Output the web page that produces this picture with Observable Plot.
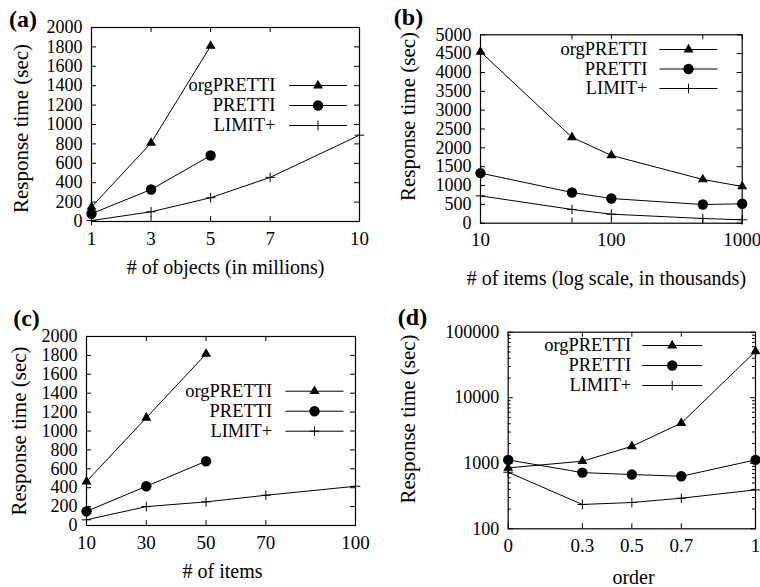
<!DOCTYPE html>
<html>
<head>
<meta charset="utf-8">
<script src="https://cdn.jsdelivr.net/npm/d3@7"></script>
<script src="https://cdn.jsdelivr.net/npm/@observablehq/plot@0.6"></script>
<style>
  html, body { margin: 0; padding: 0; background: #fff; }
  #wrap { position: relative; width: 760px; height: 587px; overflow: hidden; background: #fff; }
  #wrap svg { position: absolute; overflow: visible; font-family: 'Liberation Serif', 'Times New Roman', Times, serif !important; }
  #wrap svg text { font-family: 'Liberation Serif', 'Times New Roman', Times, serif; }
</style>
</head>
<body>
<div id="wrap"></div>
<script>
// ---------- data ----------
const seriesNames = ["orgPRETTI", "PRETTI", "LIMIT+"];
const yTitle = "Response time (sec)";

// (a) number of objects (millions)
const aX = [1, 3, 5, 7, 10];
const aOrg = [150, 810, 1810];
const aPretti = [80, 330, 680];
const aLimit = [10, 100, 245, 455, 890];
const aYTicks = [0, 200, 400, 600, 800, 1000, 1200, 1400, 1600, 1800, 2000];

// (b) number of items (log scale, thousands)
const bX = [10, 50, 100, 500, 1000];
const bOrg = [4550, 2280, 1800, 1160, 975];
const bPretti = [1330, 815, 655, 495, 515];
const bLimit = [725, 365, 240, 125, 90];
const bYTicks = [0, 500, 1000, 1500, 2000, 2500, 3000, 3500, 4000, 4500, 5000];

// (c) number of items
const cX = [10, 30, 50, 70, 100];
const cOrg = [465, 1140, 1815];
const cPretti = [150, 415, 680];
const cLimit = [60, 200, 250, 320, 415];
const cYTicks = [0, 200, 400, 600, 800, 1000, 1200, 1400, 1600, 1800, 2000];

// (d) order
const dX = [0, 0.3, 0.5, 0.7, 1];
const dOrg = [850, 1075, 1815, 4100, 51000];
const dPretti = [1125, 720, 673, 634, 1125];
const dLimit = [730, 235, 252, 293, 393];
const dYTicks = [100, 1000, 10000, 100000];
const dYMinor = [200,300,400,500,600,700,800,900,2000,3000,4000,5000,6000,7000,8000,9000,20000,30000,40000,50000,60000,70000,80000,90000];

// ---------- drawing ----------
const FONT = "'Liberation Serif', 'Times New Roman', Times, serif";
const TICK_FS = 18;
const LEGEND_FS = 18.5;
const markers = [
  {symbol: "triangle", r: 3.7, fill: "black", stroke: "none"},
  {symbol: "circle", r: 5.2, fill: "black", stroke: "none"},
  {symbol: "plus", r: 3.2, fill: "none", stroke: "black"}
];
function hline(len) {
  return {draw(ctx) { ctx.moveTo(-len / 2, 0); ctx.lineTo(len / 2, 0); }};
}
const rows = (xs, ys) => ys.map((y, i) => ({x: xs[i], y}));

function panel(cfg) {
  const W = cfg.width - cfg.mL - cfg.mR;
  const H = cfg.height - cfg.mT - cfg.mB;
  const marks = [];
  // inward ticks (gnuplot style, mirrored)
  marks.push(Plot.tickY(cfg.yTicks, {y: d => d, insetRight: W - 5, stroke: "black"}));
  marks.push(Plot.tickY(cfg.yTicks, {y: d => d, insetLeft: W - 5, stroke: "black"}));
  if (cfg.yMinor) {
    marks.push(Plot.tickY(cfg.yMinor, {y: d => d, insetRight: W - 3, stroke: "black"}));
    marks.push(Plot.tickY(cfg.yMinor, {y: d => d, insetLeft: W - 3, stroke: "black"}));
  }
  marks.push(Plot.tickX(cfg.xTicks, {x: d => d, insetTop: H - 5, stroke: "black"}));
  marks.push(Plot.tickX(cfg.xTicks, {x: d => d, insetBottom: H - 5, stroke: "black"}));
  marks.push(Plot.axisY(cfg.yTicks, {tickSize: 0, tickPadding: 9, fontSize: TICK_FS, fontFamily: FONT, tickFormat: d => String(d), label: null, fill: "black"}));
  marks.push(Plot.axisX(cfg.xTicks, {tickSize: 0, tickPadding: 9.5, fontSize: TICK_FS + 1, fontFamily: FONT, tickFormat: d => String(d), label: null, fill: "black"}));
  // series
  cfg.series.forEach((ys, k) => {
    const data = rows(cfg.x, ys);
    marks.push(Plot.line(data, {x: "x", y: "y", stroke: "black", strokeWidth: 1}));
    marks.push(Plot.dot(data, {x: "x", y: "y", ...markers[k], strokeWidth: 1}));
  });
  marks.push(Plot.frame({stroke: "black", strokeWidth: 1.2}));
  // legend
  const L = cfg.legend;
  seriesNames.forEach((name, k) => {
    marks.push(Plot.text([name], {text: d => d, frameAnchor: "top-left", dx: L.textDx, dy: L.rows[k], textAnchor: "end", lineAnchor: "middle", fontSize: LEGEND_FS, fontFamily: FONT, fill: "black"}));
    marks.push(Plot.dot([0], {frameAnchor: "top-left", dx: L.lineDx, dy: L.rows[k], symbol: hline(L.len), r: 1, fill: "none", stroke: "black", strokeWidth: 1}));
    marks.push(Plot.dot([0], {frameAnchor: "top-left", dx: L.lineDx, dy: L.rows[k], ...markers[k], strokeWidth: 1}));
  });
  // titles
  marks.push(Plot.text([cfg.xTitle], {text: d => d, frameAnchor: "bottom", dx: cfg.xTitleDx, dy: cfg.xTitleDy, textAnchor: "middle", lineAnchor: "middle", fontSize: 20, fontFamily: FONT, fill: "black"}));
  marks.push(Plot.text([yTitle], {text: d => d, frameAnchor: "left", dx: cfg.yTitleDx, dy: cfg.yTitleDy, rotate: -90, textAnchor: "middle", lineAnchor: "middle", fontSize: 21, fontFamily: FONT, fill: "black"}));
  marks.push(Plot.text([cfg.tag], {text: d => d, frameAnchor: "top-left", dx: cfg.tagDx, dy: cfg.tagDy, textAnchor: "middle", lineAnchor: "middle", fontSize: 24, fontWeight: "bold", fontFamily: FONT, fill: "black"}));

  const svg = Plot.plot({
    width: cfg.width, height: cfg.height,
    marginLeft: cfg.mL, marginRight: cfg.mR, marginTop: cfg.mT, marginBottom: cfg.mB,
    style: "font-family: " + FONT + "; font-size: 19px; color: black; background: transparent; overflow: visible;",
    x: cfg.xScale,
    y: cfg.yScale,
    marks
  });
  svg.style.left = cfg.left + "px";
  svg.style.top = cfg.top + "px";
  document.getElementById("wrap").appendChild(svg);
}

panel({
  left: 0, top: 0, width: 380, height: 290, mL: 91, mR: 21, mT: 27, mB: 69,
  xScale: {type: "linear", domain: [1, 10]}, yScale: {type: "linear", domain: [0, 2000]},
  x: aX, xTicks: aX, yTicks: aYTicks,
  series: [aOrg, aPretti, aLimit],
  legend: {textDx: 184, lineDx: 226.5, rows: [58, 78, 98], len: 58},
  xTitle: "# of objects (in millions)", xTitleDx: 0, xTitleDy: 46,
  yTitleDx: -70, yTitleDy: 4, tag: "(a)", tagDx: -68.5, tagDy: -8
});
panel({
  left: 380, top: 0, width: 380, height: 290, mL: 100, mR: 18.3, mT: 34.3, mB: 67.3,
  xScale: {type: "log", domain: [10, 1000]}, yScale: {type: "linear", domain: [0, 5000]},
  x: bX, xTicks: bX, yTicks: bYTicks,
  series: [bOrg, bPretti, bLimit],
  legend: {textDx: 167, lineDx: 208, rows: [14.7, 34.2, 53.7], len: 58},
  xTitle: "# of items (log scale, in thousands)", xTitleDx: -5, xTitleDy: 55.6,
  yTitleDx: -72, yTitleDy: -12.5, tag: "(b)", tagDx: -72, tagDy: -17.3
});
panel({
  left: 0, top: 295, width: 380, height: 292, mL: 86, mR: 25, mT: 41, mB: 62,
  xScale: {type: "linear", domain: [10, 100]}, yScale: {type: "linear", domain: [0, 2000]},
  x: cX, xTicks: cX, yTicks: cYTicks,
  series: [cOrg, cPretti, cLimit],
  legend: {textDx: 185.7, lineDx: 228, rows: [54.7, 74.7, 94.7], len: 58},
  xTitle: "# of items", xTitleDx: 1.5, xTitleDy: 46,
  yTitleDx: -67, yTitleDy: 0, tag: "(c)", tagDx: -60, tagDy: -18.5
});
panel({
  left: 380, top: 295, width: 380, height: 292, mL: 127.7, mR: 5, mT: 36.7, mB: 58.7,
  xScale: {type: "linear", domain: [0, 1]}, yScale: {type: "log", domain: [100, 100000]},
  x: dX, xTicks: dX, yTicks: dYTicks, yMinor: dYMinor,
  series: [dOrg, dPretti, dLimit],
  legend: {textDx: 123, lineDx: 164, rows: [13.3, 33.3, 53.3], len: 60},
  xTitle: "order", xTitleDx: 1.7, xTitleDy: 48.5,
  yTitleDx: -100, yTitleDy: -11.5, tag: "(d)", tagDx: -95.7, tagDy: -14.7
});
</script>
</body>
</html>
